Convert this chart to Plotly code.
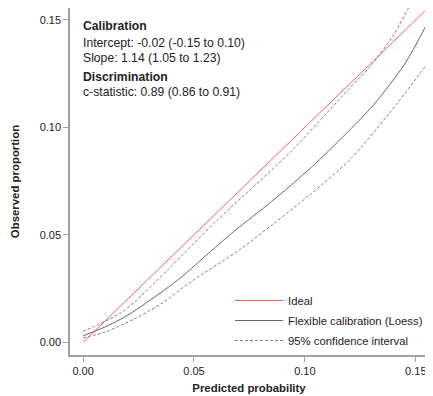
import plotly.graph_objects as go

# Data
ideal_x = [0.0, 0.1555]
ideal_y = [0.0, 0.1555]

loess_x = [0.000, 0.010, 0.0167, 0.024, 0.043, 0.055, 0.068, 0.085, 0.103, 0.118, 0.131, 0.145, 0.1555]
loess_y = [0.003, 0.0072, 0.0106, 0.0152, 0.0292, 0.0400, 0.0516, 0.0655, 0.0815, 0.0965, 0.1105, 0.1295, 0.1490]

upper_x = [0.000, 0.0084, 0.0167, 0.024, 0.039, 0.0602, 0.094, 0.110, 0.120, 0.130, 0.140, 0.147, 0.1555]
upper_y = [0.0051, 0.0090, 0.0135, 0.0195, 0.0346, 0.0565, 0.0890, 0.1068, 0.1180, 0.1290, 0.1430, 0.1560, 0.1710]

lower_x = [0.000, 0.010, 0.0167, 0.024, 0.036, 0.049, 0.0707, 0.085, 0.1023, 0.1203, 0.138, 0.1555]
lower_y = [0.002, 0.0048, 0.0078, 0.0113, 0.0185, 0.0285, 0.0431, 0.0545, 0.0687, 0.0850, 0.1065, 0.1300]

tick_vals = [0.00, 0.05, 0.10, 0.15]
tick_text = ["0.00", "0.05", "0.10", "0.15"]

FONT = "Liberation Sans, Arial, Helvetica, sans-serif"
TXT = "#222222"

fig = go.Figure()
fig.add_trace(go.Scatter(x=ideal_x, y=ideal_y, mode="lines", name="Ideal", legendgroup="a",
                         line=dict(color="#ff5c5c", width=1)))
fig.add_trace(go.Scatter(x=loess_x, y=loess_y, mode="lines", name="Flexible calibration (Loess)",
                         legendgroup="b",
                         line=dict(color="#666666", width=1, shape="spline", smoothing=0.8)))
fig.add_trace(go.Scatter(x=upper_x, y=upper_y, mode="lines", name="95% confidence interval",
                         legendgroup="c",
                         line=dict(color="#808080", width=1, dash="3px,2px", shape="spline", smoothing=0.8)))
fig.add_trace(go.Scatter(x=lower_x, y=lower_y, mode="lines", name="95% confidence interval",
                         legendgroup="c", showlegend=False,
                         line=dict(color="#808080", width=1, dash="3px,2px", shape="spline", smoothing=0.8)))

axis_common = dict(
    range=[-0.0059, 0.1555],
    tickvals=tick_vals, ticktext=tick_text,
    showgrid=False, zeroline=False,
    showline=True, mirror=True, linecolor="#a0a0a0", linewidth=1.5,
    ticks="outside", ticklen=5, tickcolor="#a0a0a0", tickwidth=1,
    tickfont=dict(family=FONT, size=11, color=TXT),
)

fig.update_xaxes(**axis_common,
                 title=dict(text="<b>Predicted probability</b>", standoff=8,
                            font=dict(family=FONT, size=11.4, color=TXT)))
fig.update_yaxes(**axis_common,
                 title=dict(text="<b>Observed proportion</b>", standoff=18,
                            font=dict(family=FONT, size=11.4, color=TXT)))

ann_lines = [
    ("<b>Calibration</b>", 0.1470),
    ("Intercept: -0.02 (-0.15 to 0.10)", 0.1393),
    ("Slope: 1.14 (1.05 to 1.23)", 0.1323),
    ("<b>Discrimination</b>", 0.1234),
    ("c-statistic: 0.89 (0.86 to 0.91)", 0.1163),
]
for text, yv in ann_lines:
    fig.add_annotation(x=0.0, y=yv, xref="x", yref="y", text=text, showarrow=False,
                       xanchor="left", yanchor="middle", xshift=-2,
                       font=dict(family=FONT, size=12.2, color=TXT))

# The page body has an 8px margin, so the figure is sized/offset to compensate
fig.update_layout(
    width=425, height=388,
    margin=dict(l=62, r=5, t=0, b=41, autoexpand=False),
    plot_bgcolor="white", paper_bgcolor="white",
    font=dict(family=FONT, size=11, color=TXT),
    legend=dict(x=0.447, y=0.0, xanchor="left", yanchor="bottom",
                bgcolor="rgba(0,0,0,0)", font=dict(family=FONT, size=11.3, color=TXT),
                traceorder="grouped", tracegroupgap=1, itemwidth=48),
    showlegend=True,
)

fig.write_html("out.html")
